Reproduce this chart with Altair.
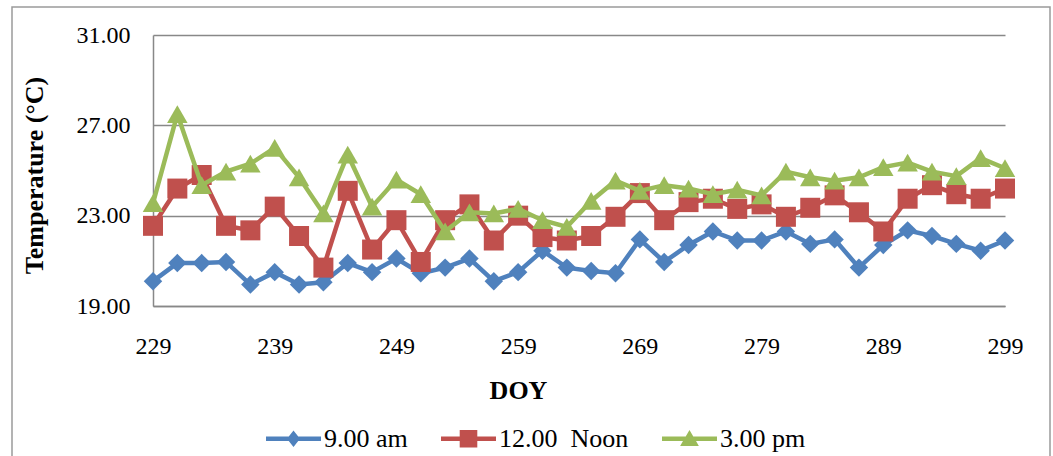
import altair as alt
import pandas as pd

# ---- data ----
doy = [229, 231, 233, 235, 237, 239, 241, 243, 245, 247, 249, 251,
       253, 255, 257, 259, 261, 263, 265, 267, 269, 271, 273, 275,
       277, 279, 281, 283, 285, 287, 289, 291, 293, 295, 297, 299]

am9 = [20.1, 20.9, 20.9, 20.95, 19.95, 20.5, 19.95, 20.05, 20.9, 20.5, 21.1, 20.45,
       20.7, 21.1, 20.1, 20.5, 21.45, 20.7, 20.55, 20.45, 21.95, 20.95, 21.7, 22.3,
       21.9, 21.9, 22.3, 21.75, 21.95, 20.7, 21.7, 22.35, 22.1, 21.75, 21.45, 21.9]

noon12 = [22.55, 24.2, 24.8, 22.55, 22.35, 23.4, 22.1, 20.7, 24.1, 21.5, 22.8, 20.95,
          22.8, 23.5, 21.9, 23.0, 22.05, 21.9, 22.1, 22.95, 24.0, 22.8, 23.6, 23.75,
          23.3, 23.5, 22.95, 23.35, 23.9, 23.15, 22.3, 23.75, 24.35, 23.95, 23.75, 24.2]

pm3 = [23.55, 27.5, 24.35, 24.95, 25.3, 26.0, 24.7, 23.1, 25.7, 23.4, 24.6, 23.95,
       22.3, 23.15, 23.1, 23.3, 22.8, 22.5, 23.65, 24.55, 24.1, 24.35, 24.2, 23.95,
       24.15, 23.9, 24.95, 24.7, 24.55, 24.7, 25.15, 25.35, 24.95, 24.75, 25.55, 25.1]

series_names = ["9.00 am", "12.00  Noon", "3.00 pm"]
series_colors = ["#4F81BD", "#C0504D", "#9BBB59"]
series_shapes = ["diamond", "square", "triangle-up"]
series_sizes = [340, 400, 420]

y_ticks = [19, 23, 27, 31]
x_ticks = [229, 239, 249, 259, 269, 279, 289, 299]

# legend symbols: line segment with a marker on it (unit coordinates)
legend_paths = [
    "M-1,-0.085H-0.172L0,-0.3L0.172,-0.085H1V0.085H0.172L0,0.3L-0.172,0.085H-1Z",
    "M-1,-0.085H-0.32V-0.32H0.32V-0.085H1V0.085H0.32V0.32H-0.32V0.085H-1Z",
    "M-1,-0.085H-0.138L0,-0.32L0.138,-0.085H1V0.085H0.237L0.34,0.26H-0.34L-0.237,0.085H-1Z",
]

# display names: keep the double space visible in SVG
disp = [n.replace("  ", "\u00a0 ") for n in series_names]

rows = []
for name, vals in zip(disp, [am9, noon12, pm3]):
    for d, v in zip(doy, vals):
        rows.append({"DOY": d, "T": v, "series": name})
df = pd.DataFrame(rows)

FONT = "Liberation Serif"

x_enc = alt.X(
    "DOY:Q",
    scale=alt.Scale(domain=[229, 299], nice=False, zero=False),
    axis=alt.Axis(
        values=x_ticks, grid=False, ticks=False, tickSize=0,
        labelFont=FONT, labelFontSize=24, labelColor="black",
        labelBaseline="alphabetic", labelPadding=47, labelFlush=False,
        domainColor="#888888", domainWidth=1.5,
        title="DOY", titleFont=FONT, titleFontSize=26, titleFontWeight="bold",
        titleColor="black", titleX=365, titleY=92, titleBaseline="alphabetic",
    ),
)
y_enc = alt.Y(
    "T:Q",
    scale=alt.Scale(domain=[19, 31], nice=False, zero=False),
    axis=alt.Axis(
        values=y_ticks, format=".2f", grid=True, gridColor="#888888", gridWidth=1.5,
        ticks=False, tickSize=0,
        labelFont=FONT, labelFontSize=24, labelColor="black", labelPadding=23,
        domainColor="#888888", domainWidth=1.5,
        title="Temperature (°C)", titleFont=FONT, titleFontSize=26,
        titleFontWeight="bold", titleColor="black",
        titleX=-111, titleY=140, titleBaseline="alphabetic",
    ),
)

layers = []
# outer chart frame (decoration)
frame = alt.Chart(alt.InlineData(values=[{"f": 1}])).mark_rect(
    filled=False, fillOpacity=0, stroke="#9a9a9a", strokeWidth=1.5
).encode(x=alt.value(-141), x2=alt.value(897), y=alt.value(-28), y2=alt.value(440))
layers.append(frame)

base = alt.Chart(df)
for name, col, shp, sz in zip(disp, series_colors, series_shapes, series_sizes):
    sub = base.transform_filter(alt.datum.series == name)
    layers.append(sub.mark_line(color=col, strokeWidth=4.5).encode(x=x_enc, y=y_enc))
    layers.append(
        sub.mark_point(filled=True, shape=shp, size=sz, color=col, opacity=1)
        .encode(x=x_enc, y=y_enc)
    )

legend = alt.Legend(
    orient="none", legendX=113, legendY=376, direction="horizontal", title=None,
    symbolSize=3025, symbolStrokeWidth=0, symbolOpacity=1,
    labelFont=FONT, labelFontSize=26, labelColor="black", labelOffset=3,
    columnPadding=33, padding=0, labelLimit=300,
)
legend_layer = base.transform_filter("false").mark_point(filled=True, opacity=1).encode(
    x=x_enc, y=y_enc,
    color=alt.Color("series:N", scale=alt.Scale(domain=disp, range=series_colors), legend=legend),
    shape=alt.Shape("series:N", scale=alt.Scale(domain=disp, range=legend_paths), legend=legend),
)
layers.append(legend_layer)

chart = alt.layer(*layers).properties(
    width=852, height=271,
    autosize=alt.AutoSizeParams(type="none"),
    padding={"left": 153, "top": 35, "right": 48, "bottom": 150},
    background="white",
).configure_view(strokeWidth=0)

chart.save("out.html", embed_options={"renderer": "svg", "actions": False})
